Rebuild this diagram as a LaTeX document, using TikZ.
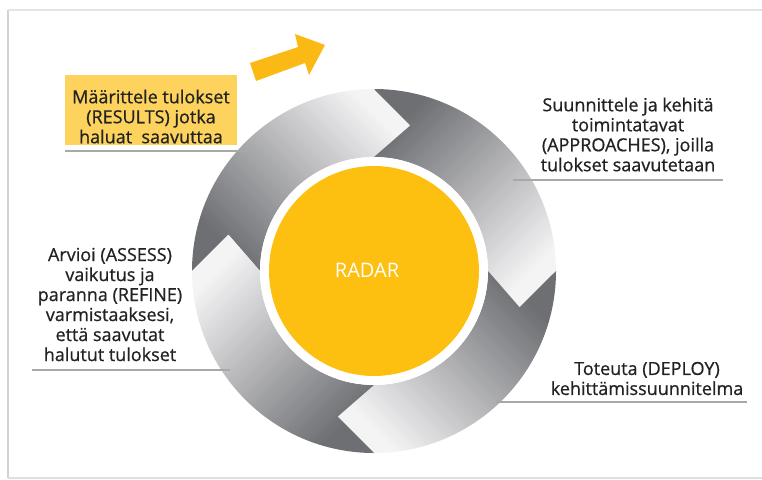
\documentclass[tikz,border=0pt]{standalone}
\usepackage{fontspec}
\setmainfont{Open Sans}[FakeBold=0.7]
\newfontfamily\radarfont{Open Sans}
\definecolor{txt}{HTML}{222222}
\definecolor{rulegray}{HTML}{A8A8A8}
\definecolor{segdark}{HTML}{6E6F73}
\definecolor{seglight}{HTML}{F4F4F5}
\definecolor{radaryellow}{HTML}{FDBF10}
\definecolor{arrowyellow}{HTML}{FBB915}
\definecolor{boxyellow}{HTML}{FDD35E}
\definecolor{framegray}{HTML}{D2D2D2}
\begin{document}
\begin{tikzpicture}[x=1pt,y=-1pt,
  lbl/.style={align=center, text=txt, font=\fontsize{18}{20}\selectfont, inner sep=0pt},
  rulerline/.style={draw=rulegray, line width=1.5pt},
  segment/.style={top color=seglight, bottom color=segdark}
]
\useasboundingbox (0,0) rectangle (762,479);

% frame
\draw[framegray, line width=2.5pt] (8,10) -- (8,478);
\draw[framegray!60, line width=1.2pt] (8,10) -- (762,10);
\draw[framegray!70, line width=1.2pt] (8,478) -- (762,478);

% ring of four interlocking arrows, clockwise, dark tail to light head
\coordinate (c) at (374,271);
\begin{scope}[shift={(c)}, yscale=-1]
  \def\Ro{182}\def\Ri{114}\def\Rt{150}\def\dt{14}
  \foreach \T/\ang in {180/-45, 90/-135, 0/135, 270/45}{
    \shade[segment, shading angle=\ang]
      (\T:\Ro) arc[start angle=\T, end angle=\T-90, radius=\Ro]
      -- (\T-90-\dt:\Rt) -- (\T-90:\Ri)
      arc[start angle=\T-90, end angle=\T, radius=\Ri]
      -- (\T-\dt:\Rt) -- cycle;
  }
\end{scope}

% centre disc
\fill[white] (c) circle[radius=114];
\node[circle, fill=radaryellow, minimum size=210pt, inner sep=0pt] (radar) at (c) {};
\node[text=white, font=\radarfont\fontsize{20}{24}\selectfont, inner sep=0pt] (radarlbl) at (367,270) {RADAR};

% yellow arrow
\fill[arrowyellow] (256,81) -- (250,63) -- (298,47) -- (295,34) -- (325,45)
  -- (309,75) -- (305,63) -- cycle;

% results box
\node[fill=boxyellow, minimum width=172pt, minimum height=70pt, inner sep=0pt] (resbox) at (151,110) {};
\node[lbl] (results) at (151,116.5) {Määrittele tulokset\\(RESULTS) jotka\\haluat\ \ saavuttaa};

% other labels
\node[lbl] (approaches) at (628,134.5) {Suunnittele ja kehitä\\toimintatavat\\(APPROACHES), joilla\\tulokset saavutetaan};
\node[lbl] (assess) at (110,304.5) {Arvioi (ASSESS)\\vaikutus ja\\paranna (REFINE)\\varmistaaksesi,\\että saavutat\\halutut tulokset};
\node[lbl] (deploy) at (647,378.5) {Toteuta (DEPLOY)\\kehittämissuunnitelma};

% underlines
\coordinate (r1a) at (65,151);  \coordinate (r1b) at (248,151);
\coordinate (r2a) at (513,180); \coordinate (r2b) at (723,180);
\coordinate (r3a) at (32,370);  \coordinate (r3b) at (230,370);
\coordinate (r4a) at (496,402); \coordinate (r4b) at (747,402);
\draw[rulerline] (r1a) -- (r1b);
\draw[rulerline] (r2a) -- (r2b);
\draw[rulerline] (r3a) -- (r3b);
\draw[rulerline] (r4a) -- (r4b);
\end{tikzpicture}
\end{document}
